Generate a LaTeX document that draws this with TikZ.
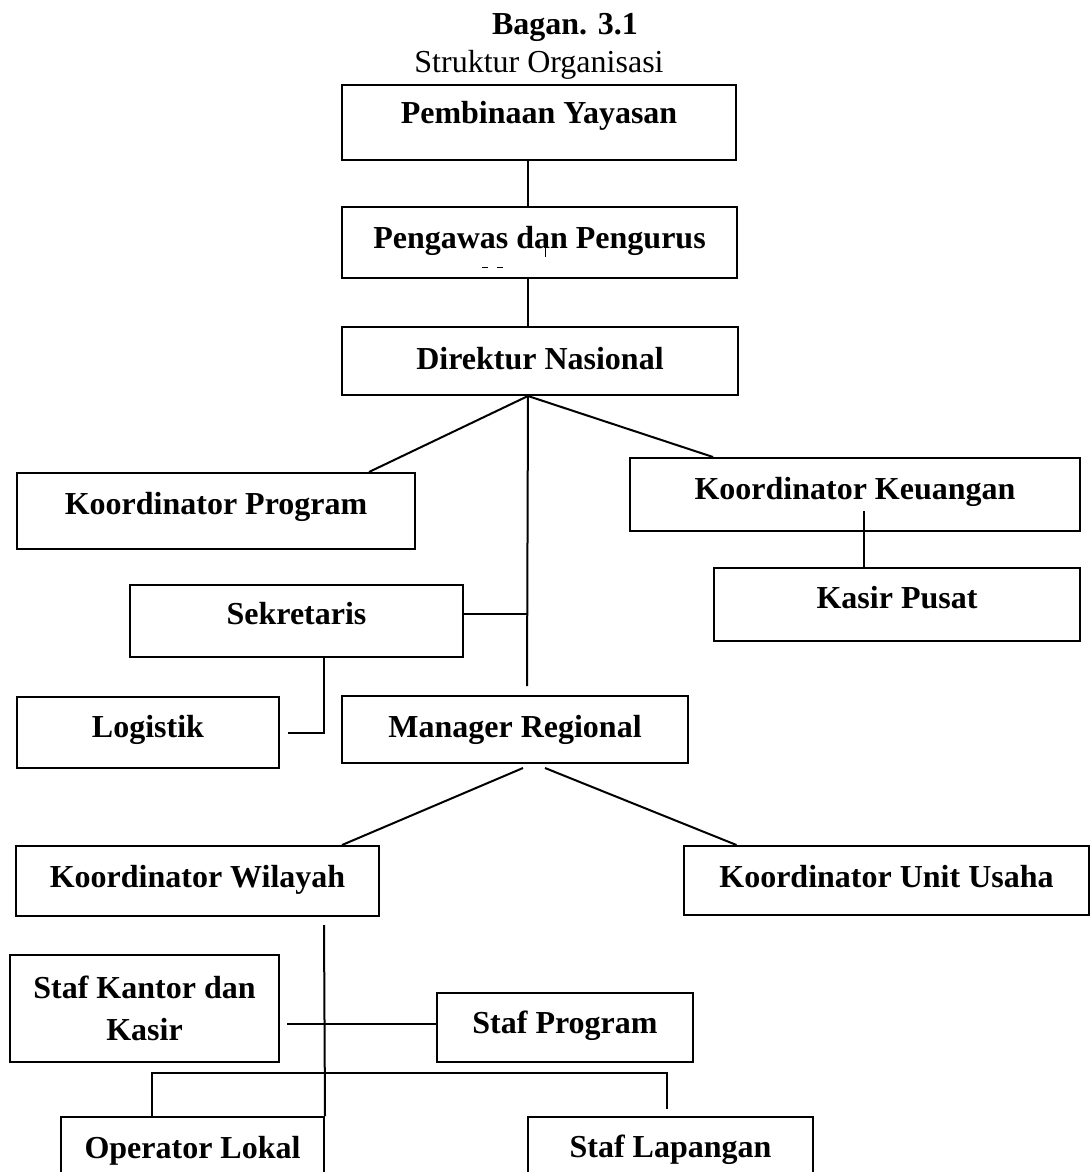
\documentclass[tikz,border=0pt]{standalone}
\usepackage{fontspec}
\setmainfont{Liberation Serif}
\usetikzlibrary{calc, positioning}
\newcommand{\chartfont}{\fontsize{32}{42}\selectfont}
\tikzset{
    boxnode/.style = {draw, rectangle, line width=2pt, inner sep=0pt, font=\chartfont\bfseries,
      text height=24pt, text depth=#1},
    boxnode/.default = 12pt,
    twolinenode/.style = {draw, rectangle, line width=2pt, inner sep=0pt, font=\chartfont\bfseries,
      align=center},
    textnode/.style = {draw=none, fill=none, inner sep=0pt, anchor=base},
    connect/.style = {black, line width=2pt},
    smudge/.style = {black, line width=0.9pt}
}

\begin{document}
\begin{tikzpicture}[x=1pt, y=-1pt]
\useasboundingbox (0,0) rectangle (1091,1172);
\clip (0,0) rectangle (1091,1172);

\node[textnode, name=title, font=\chartfont\bfseries] at (565,35) {Bagan. 3.1};
\node[textnode, name=subtitle, font=\chartfont] at (539,72) {Struktur Organisasi};

\coordinate (spine) at (528,0);

% top of the chart
\node[boxnode=23pt, name=pembina, minimum width=394pt, minimum height=75pt] at (539,122.5) {Pembinaan Yayasan};
\node[boxnode=13pt, name=pengawas, minimum width=395pt, minimum height=71pt] at (539.5,242.5) {Pengawas dan Pengurus};
\node[boxnode=8pt, name=direktur, minimum width=396pt, minimum height=68pt] at (540,361) {Direktur Nasional};

\draw[connect] (pembina.south -| spine) -- (pengawas.north -| spine);
\draw[connect] (pengawas.south -| spine) -- (direktur.north -| spine);
\draw[smudge] ([xshift=5.5pt,yshift=7.5pt]pengawas.center) -- ([xshift=5.5pt,yshift=-14.5pt]pengawas.center);
\draw[smudge] ([xshift=-57.5pt,yshift=-24.5pt]pengawas.center) -- ++(6,0);
\draw[smudge] ([xshift=-42.5pt,yshift=-24.5pt]pengawas.center) -- ++(6,0);

% coordinators
\node[boxnode=18pt, name=kprogram, minimum width=398pt, minimum height=76pt] at (216,511) {Koordinator Program};
\node[boxnode=15pt, name=kkeuangan, minimum width=450pt, minimum height=73pt] at (855,494.5) {Koordinator Keuangan};
\node[boxnode=17pt, name=kasir, minimum width=366pt, minimum height=73pt] at (897,604.5) {Kasir Pusat};
\node[boxnode=18pt, name=sekretaris, minimum width=333pt, minimum height=72pt] at (296.5,621) {Sekretaris};
\node[boxnode=15pt, name=logistik, minimum width=262pt, minimum height=71pt] at (148,732.5) {Logistik};
\node[boxnode=9pt, name=manager, minimum width=346pt, minimum height=67pt] at (515,729.5) {Manager Regional};

\draw[connect] (direktur.south -| spine) -- ([xshift=153pt]kprogram.north);
\draw[connect] (direktur.south -| spine) -- ([xshift=-142pt]kkeuangan.north);
\draw[connect] (direktur.south -| spine) -- ([xshift=12pt,yshift=9pt]manager.north);
\draw[connect] ([xshift=9pt,yshift=21pt]kkeuangan.south) -- ([xshift=-33pt]kasir.north);
\draw[connect] ([yshift=7pt]sekretaris.east) -- ([yshift=7pt]sekretaris.east -| spine);
\draw[connect] ([xshift=27.5pt]sekretaris.south) |- ([xshift=8pt]logistik.east);

% regional level
\node[boxnode=12pt, name=kwilayah, minimum width=363pt, minimum height=70pt] at (197.5,881) {Koordinator Wilayah};
\node[boxnode=11pt, name=kunit, minimum width=405pt, minimum height=69pt] at (886.5,880.5) {Koordinator Unit Usaha};

\draw[connect] ([xshift=8pt,yshift=-4pt]manager.south) -- ([xshift=144.5pt]kwilayah.north);
\draw[connect] ([xshift=30pt,yshift=-4pt]manager.south) -- ([xshift=-150pt]kunit.north);

% staff
\node[twolinenode, name=stafkantor, minimum width=269pt, minimum height=107pt] at (144.5,1008.5) {Staf Kantor dan\\Kasir};
\node[boxnode=13pt, name=stafprogram, minimum width=256pt, minimum height=69pt] at (565,1027.5) {Staf Program};
\node[boxnode=12pt, name=operator, minimum width=263pt, minimum height=70pt] at (192.5,1152) {Operator Lokal};
\node[boxnode=14pt, name=staflapangan, minimum width=285pt, minimum height=70pt] at (670.5,1152) {Staf Lapangan};

\draw[connect] ([xshift=126.5pt,yshift=-8pt]kwilayah.south) -- (operator.north east);
\draw[connect] ([xshift=7pt,yshift=-15.5pt]stafkantor.east) -- ([yshift=3.5pt]stafprogram.west);
\draw[connect] ([xshift=-40.5pt]operator.north) -- ++(0,-43) -| ([xshift=-3.5pt,yshift=7pt]staflapangan.north);
\end{tikzpicture}
\end{document}
